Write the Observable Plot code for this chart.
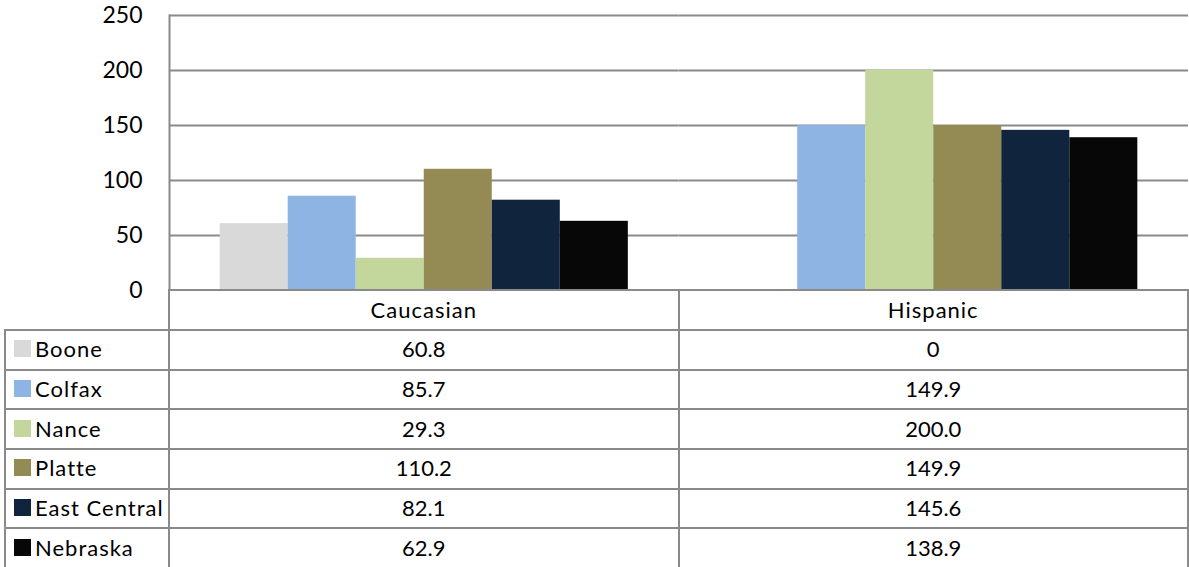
<!DOCTYPE html>
<html><head><meta charset="utf-8">
<script src="https://cdn.jsdelivr.net/npm/d3@7"></script>
<script src="https://cdn.jsdelivr.net/npm/@observablehq/plot@0.6"></script>
<style>
body{margin:0;background:#fff;font-family:Lato,sans-serif;}
#wrap{position:relative;width:1189px;height:567px;overflow:hidden;background:#fff;}
#chart{position:absolute;left:0;top:0;}
.cell{position:absolute;box-sizing:border-box;border-color:#8a8a8a;border-style:solid;border-width:0;display:flex;align-items:center;justify-content:center;font-size:22px;color:#000;padding-bottom:2px;white-space:nowrap;}
.word{letter-spacing:1px;}
.lab{justify-content:flex-start;padding-left:8px;}
.sw{width:17px;height:17px;margin-right:4px;flex:none;}
</style></head><body><div id="wrap"><div id="chart"></div></div>
<script>
const categories = ["Caucasian", "Hispanic"];
const counties = ["Boone", "Colfax", "Nance", "Platte", "East Central", "Nebraska"];
const caucasian = [60.8, 85.7, 29.3, 110.2, 82.1, 62.9];
const hispanic = [0, 149.9, 200.0, 149.9, 145.6, 138.9];
const colors = ["#d9d9d9", "#8eb4e3", "#c3d69b", "#948a54", "#10243e", "#070707"];
const yTicks = [0, 50, 100, 150, 200, 250];

const series = [caucasian, hispanic];
const rows = categories.flatMap((c, ci) => counties.map((k, i) => ({category: c, county: k, value: series[ci][i]})));
const fmt = v => v === 0 ? "0" : v.toFixed(1);

const chart = Plot.plot({
  width: 1189, height: 305,
  marginLeft: 169, marginRight: 1, marginTop: 15, marginBottom: 15,
  style: {fontFamily: "Lato, sans-serif", fontSize: "23px", color: "#000", background: "transparent", overflow: "visible"},
  fx: {domain: categories, padding: 0, round: false, axis: null, label: null},
  x: {domain: counties, paddingInner: 0, paddingOuter: 0.745, round: false, axis: null},
  y: {domain: [0, 250], axis: null},
  color: {domain: counties, range: colors},
  marks: [
    Plot.gridY(yTicks, {stroke: "#8a8a8a", strokeOpacity: 1, strokeWidth: 2}),
    Plot.barY(rows, {fx: "category", x: "county", y: "value", fill: "county"}),
    Plot.frame({anchor: "left", facetAnchor: "left", stroke: "#8a8a8a", strokeWidth: 2}),
    Plot.axisY(yTicks, {tickSize: 0, tickPadding: 27, fontSize: 23, label: null})
  ]
});
document.getElementById("chart").appendChild(chart);

// data table below the plot, aligned on Plot's fx scale
let colL = 169, colR = 1188, bw = (1188 - 169) / 2;
try {
  const fx = chart.scale("fx");
  colL = fx.range[0]; colR = fx.range[1]; bw = fx.bandwidth;
} catch (e) {}
let y0 = 290.3;
try { y0 = chart.scale("y").apply(0) + 0.3; } catch (e) {}
const rowH = 39.65;
const xs = [5, colL, colL + bw, colR];
const wrap = document.getElementById("wrap");
function cell(x0, x1, y, cls, right) {
  const d = document.createElement("div");
  d.className = "cell " + (cls || "");
  d.style.left = (x0 - 1) + "px";
  d.style.top = (y - 1) + "px";
  d.style.width = (x1 - x0 + (right ? 2 : 0)) + "px";
  d.style.height = rowH + "px";
  d.style.borderLeftWidth = "2px";
  d.style.borderTopWidth = "2px";
  if (right) d.style.borderRightWidth = "2px";
  wrap.appendChild(d);
  return d;
}
// header row
categories.forEach((c, ci) => {
  const d = cell(xs[ci + 1], xs[ci + 2], y0, "", ci === categories.length - 1);
  d.style.background = "#fff";
  const s = document.createElement("span"); s.className = "word"; s.textContent = c; d.appendChild(s);
});
// data rows
counties.forEach((k, i) => {
  const y = y0 + rowH * (i + 1);
  const l = cell(xs[0], xs[1], y, "lab", false);
  l.style.background = "#fff";
  const sw = document.createElement("div"); sw.className = "sw"; sw.style.background = colors[i]; l.appendChild(sw);
  const t = document.createElement("span"); t.className = "word"; t.textContent = k; l.appendChild(t);
  categories.forEach((c, ci) => {
    const d = cell(xs[ci + 1], xs[ci + 2], y, "", ci === categories.length - 1);
    d.style.background = "#fff";
    d.textContent = fmt(series[ci][i]);
  });
});
</script></body></html>
